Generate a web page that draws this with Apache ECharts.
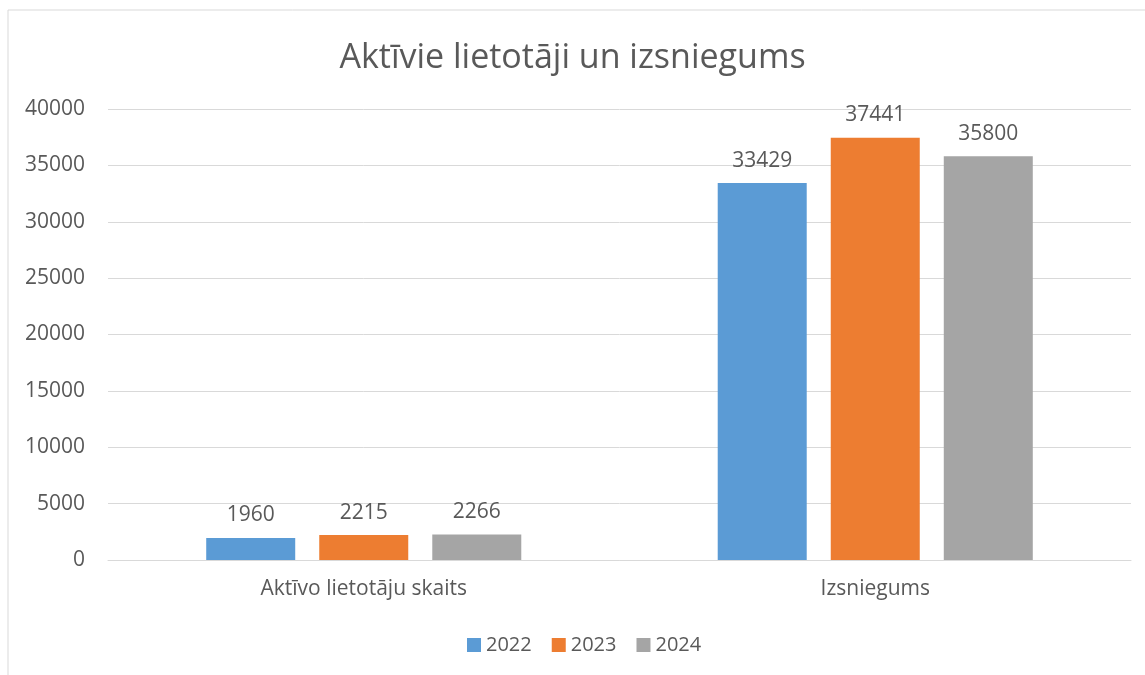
<!DOCTYPE html>
<html>
<head>
<meta charset="utf-8">
<script src="https://cdn.jsdelivr.net/npm/echarts@6/dist/echarts.min.js"></script>
<style>
  html, body { margin: 0; padding: 0; background: #fff; }
  #chart { width: 1145px; height: 675px; }
</style>
</head>
<body>
<div id="chart"></div>
<script>
// chart data
const categories = ["Aktīvo lietotāju skaits", "Izsniegums"];
const years = ["2022", "2023", "2024"];
const values2022 = [1960, 33429];
const values2023 = [2215, 37441];
const values2024 = [2266, 35800];
const colors = ["#5b9bd5", "#ed7d31", "#a5a5a5"];

const textColor = "#595959";
const fontFamily = "'Open Sans', 'Noto Sans', sans-serif";

const chart = echarts.init(document.getElementById("chart"));

const seriesValues = [values2022, values2023, values2024];

const option = {
  animation: false,
  textStyle: { fontFamily: fontFamily },
  title: {
    text: "Aktīvie lietotāji un izsniegums",
    left: "center",
    top: 36,
    textStyle: { fontSize: 34, fontWeight: "normal", color: textColor, fontFamily: fontFamily }
  },
  graphic: [{
    type: "rect",
    shape: { x: 8, y: 10, width: 1160, height: 700 },
    style: { fill: "none", stroke: "#d9d9d9", lineWidth: 1 },
    silent: true
  }],
  legend: {
    data: years,
    bottom: 15,
    left: 462,
    itemWidth: 14,
    itemHeight: 14,
    itemGap: 20,
    icon: "rect",
    textStyle: { fontSize: 20, color: textColor }
  },
  grid: { left: 108, right: 14, top: 109, bottom: 115, containLabel: false },
  xAxis: {
    type: "category",
    data: categories,
    axisLine: { lineStyle: { color: "#d9d9d9", width: 1 } },
    axisTick: { show: false },
    axisLabel: { fontSize: 21, color: textColor, margin: 19 }
  },
  yAxis: {
    type: "value",
    min: 0,
    max: 40000,
    interval: 5000,
    axisLine: { show: false },
    axisTick: { show: false },
    axisLabel: { fontSize: 21, color: textColor, margin: 23, formatter: v => String(v) },
    splitLine: { lineStyle: { color: "#d9d9d9", width: 1 } }
  },
  series: years.map((y, i) => ({
    name: y,
    type: "bar",
    data: seriesValues[i],
    barWidth: "17.4%",
    barGap: "27%",
    itemStyle: { color: colors[i] },
    label: {
      show: true,
      position: "top",
      distance: 12,
      fontSize: 21,
      color: textColor
    }
  }))
};

chart.setOption(option);
</script>
</body>
</html>
